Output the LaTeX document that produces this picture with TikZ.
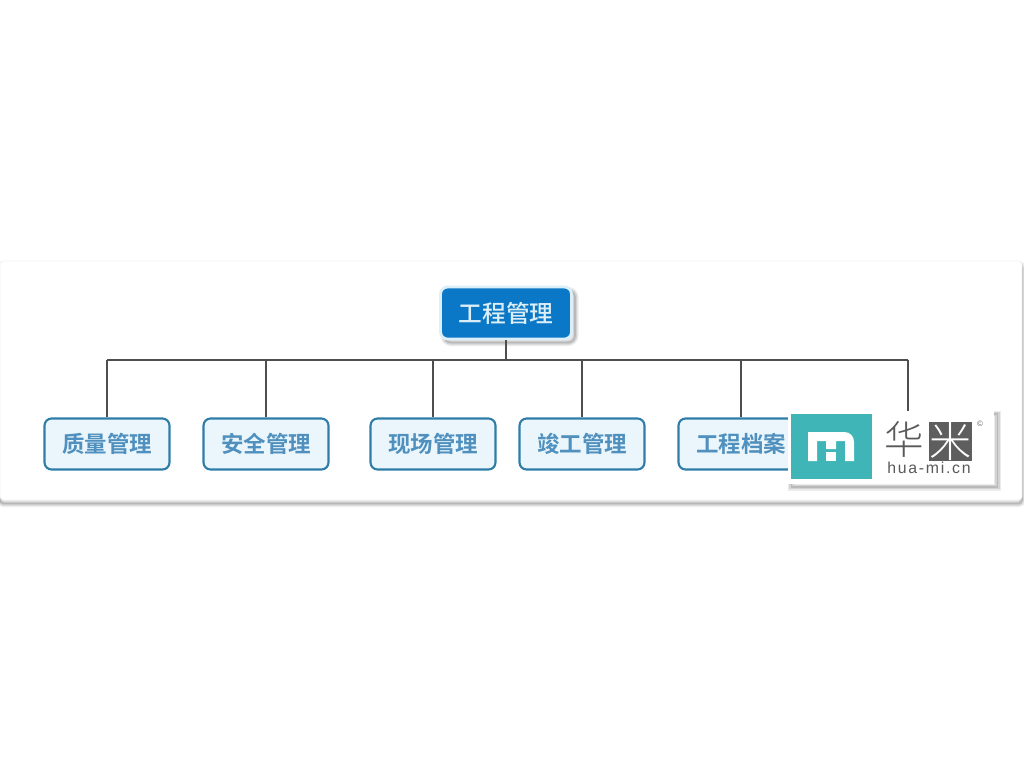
\documentclass[tikz,border=0pt]{standalone}
\usepackage{fontspec}
\newfontfamily\cjk{Noto Sans CJK SC Medium}
\newfontfamily\cjkbold{Noto Sans CJK SC Bold}
\newfontfamily\cjkthin{Noto Sans CJK SC Light}
\setsansfont{Liberation Sans}
\definecolor{rootblue}{HTML}{0A78C6}
\definecolor{rootedge}{HTML}{DCEEF8}
\definecolor{leafedge}{HTML}{2F7DA6}
\definecolor{leaffill}{HTML}{EAF6FC}
\definecolor{leaftext}{HTML}{4F90BE}
\definecolor{linkgray}{HTML}{4E4E4E}
\definecolor{logoteal}{HTML}{3FB5B8}
\definecolor{logogray}{HTML}{5E5E5E}
\begin{document}
\begin{tikzpicture}[x=0.02cm, y=-0.02cm,
    softshadow/.style={
        preaction={draw=black, draw opacity=.08, line width=4pt, transform canvas={xshift=2pt, yshift=-2pt}},
        preaction={draw=black, draw opacity=.10, line width=2.5pt, transform canvas={xshift=2pt, yshift=-2pt}},
        preaction={draw=black, draw opacity=.12, line width=1pt, transform canvas={xshift=2pt, yshift=-2pt}}},
    panelshade/.style={
        preaction={draw=black, draw opacity=.07, line width=4pt, transform canvas={yshift=-2pt}},
        preaction={draw=black, draw opacity=.10, line width=2.5pt, transform canvas={yshift=-2pt}},
        preaction={draw=black, draw opacity=.14, line width=1pt, transform canvas={yshift=-2pt}}},
    panelbox/.style={rectangle, rounded corners=2pt, draw=black!5, fill=white, minimum width=20.44cm, minimum height=4.78cm, inner sep=0pt, panelshade},
    rootbox/.style={rectangle, rounded corners=4pt, draw=rootedge, line width=1.6pt, fill=rootblue, text=rootedge, minimum width=2.62cm, minimum height=1.04cm, font=\cjk\fontsize{13.5}{15}\selectfont, softshadow},
    leafbox/.style={rectangle, rounded corners=4pt, draw=leafedge, line width=1.2pt, fill=leaffill, text=leaftext, minimum width=2.5cm, minimum height=1.02cm, font=\cjkbold\fontsize{12.8}{15}\selectfont},
    logobox/.style={rectangle, fill=white, minimum width=4.12cm, minimum height=1.46cm, softshadow},
    link/.style={draw=linkgray, line width=1.1pt}]
    \useasboundingbox (0,0) rectangle (1024,768);
    % panel
    \node [panelbox] (panel) at (511,380.5) {};
    % tree
    \node [rootbox] (root) at (506,313) {工程管理};
    \node [leafbox] (quality) at (107,444) {质量管理};
    \node [leafbox] (safety) at (266,444) {安全管理};
    \node [leafbox] (site) at (433,444) {现场管理};
    \node [leafbox] (finish) at (582,444) {竣工管理};
    \node [leafbox] (archive) at (741,444) {工程档案};
    \coordinate (busl) at (107,360);
    \coordinate (busr) at (908,360);
    \coordinate (hidden) at (908,412);
    \draw [link] (busl) -- (busr);
    \draw [link] (root) -- (root |- busl);
    \foreach \leaf in {quality, safety, site, finish, archive}
        \draw [link] (\leaf) -- (\leaf |- busl);
    \draw [link] (busr) -- (hidden);
    % logo
    \node [logobox] (logo) at (891,447) {};
    \node [rectangle, fill=logoteal, minimum width=1.62cm, minimum height=1.3cm] (mark) at (831.5,446.5) {};
    \fill [white] (808,461) -- (808,432) -- (844,432) .. controls (850,432) and (854,436) .. (854,442) -- (854,461) -- (845,461) -- (845,441) -- (836,441) -- (836,449) -- (826,449) -- (826,441) -- (817,441) -- (817,461) -- cycle;
    \fill [white] (826,452) rectangle (836,461);
    \node [text=black!65, font=\cjkthin\fontsize{22.5}{26}\selectfont, inner sep=0pt] (hua) at (904,439) {华};
    \node [rectangle, fill=logogray, text=white, minimum width=0.86cm, minimum height=0.74cm, inner sep=0pt, font=\cjkthin\fontsize{24}{26}\selectfont] (mi) at (950.5,441.5) {米};
    \node [text=black!65, font=\sffamily\fontsize{9}{11}\selectfont\addfontfeatures{LetterSpace=11}, inner sep=0pt] (sitename) at (929,468) {hua-mi.cn};
    \node [text=black!60, font=\sffamily\fontsize{4.5}{5}\selectfont, inner sep=0pt] (copy) at (980,424) {©};
\end{tikzpicture}
\end{document}
